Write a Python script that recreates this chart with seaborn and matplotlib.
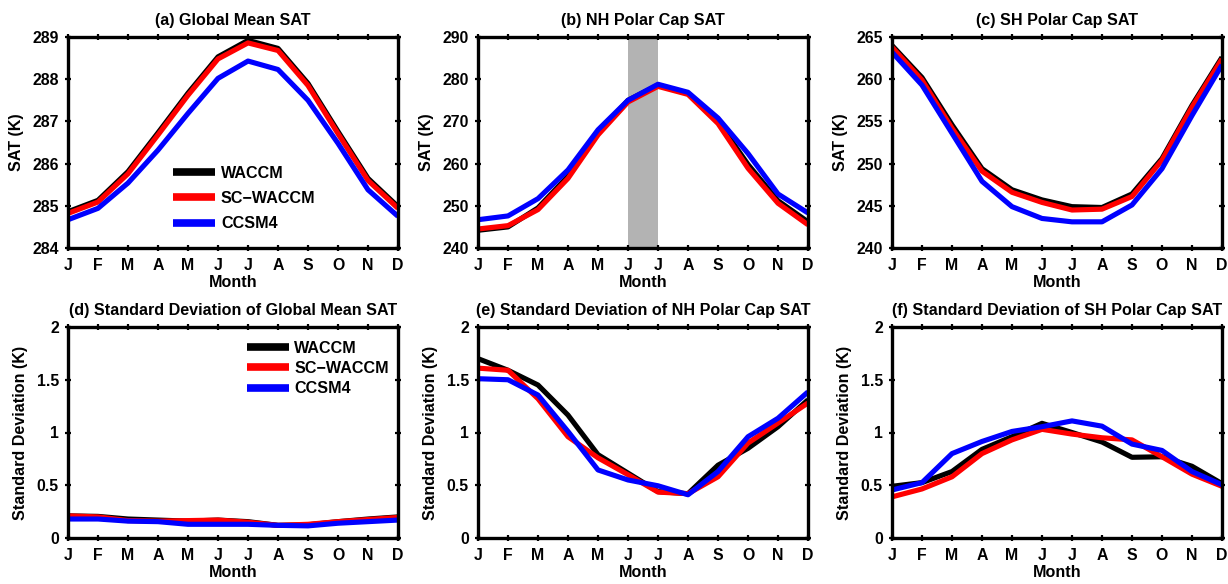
import matplotlib
matplotlib.use("Agg")
import matplotlib.pyplot as plt
import numpy as np
import pandas as pd
import seaborn as sns

# ---- data -------------------------------------------------------------
month_labels = ["J", "F", "M", "A", "M", "J", "J", "A", "S", "O", "N", "D"]
models = ["WACCM", "SC\u2212WACCM", "CCSM4"]
model_colors = ["#000000", "#ff0000", "#0000ff"]

# (a) global mean SAT (K)
gm_waccm = [284.86, 285.13, 285.81, 286.73, 287.67, 288.53, 288.92, 288.73, 287.90, 286.76, 285.65, 284.98]
gm_scwaccm = [284.82, 285.09, 285.76, 286.68, 287.62, 288.48, 288.86, 288.68, 287.85, 286.71, 285.60, 284.94]
gm_ccsm4 = [284.67, 284.94, 285.54, 286.32, 287.19, 288.02, 288.43, 288.23, 287.50, 286.48, 285.38, 284.75]

# (b) NH polar cap SAT (K)
nh_waccm = [244.2, 245.0, 249.5, 257.0, 267.2, 275.0, 278.6, 276.6, 270.0, 259.8, 251.2, 246.2]
nh_scwaccm = [244.5, 245.3, 249.1, 256.5, 266.8, 274.6, 278.3, 276.4, 269.5, 258.9, 250.6, 245.5]
nh_ccsm4 = [246.7, 247.6, 251.7, 258.5, 268.0, 275.0, 278.8, 276.9, 270.8, 262.4, 252.8, 248.3]

# (c) SH polar cap SAT (K)
sh_waccm = [264.0, 260.2, 254.6, 249.4, 246.9, 245.7, 244.9, 244.8, 246.4, 250.6, 256.9, 262.6]
sh_scwaccm = [263.8, 259.9, 254.2, 249.1, 246.6, 245.4, 244.5, 244.6, 246.1, 250.4, 256.7, 262.4]
sh_ccsm4 = [263.2, 259.3, 253.6, 247.9, 244.9, 243.5, 243.1, 243.1, 245.1, 249.4, 255.7, 261.7]

# (d) standard deviation of global mean SAT (K)
gm_sd_waccm = [0.21, 0.205, 0.18, 0.17, 0.16, 0.17, 0.155, 0.12, 0.125, 0.155, 0.18, 0.20]
gm_sd_scwaccm = [0.21, 0.20, 0.165, 0.16, 0.165, 0.17, 0.15, 0.12, 0.13, 0.155, 0.175, 0.195]
gm_sd_ccsm4 = [0.18, 0.18, 0.16, 0.155, 0.13, 0.13, 0.13, 0.12, 0.115, 0.14, 0.155, 0.17]

# (e) standard deviation of NH polar cap SAT (K)
nh_sd_waccm = [1.70, 1.59, 1.45, 1.165, 0.79, 0.615, 0.44, 0.42, 0.69, 0.85, 1.055, 1.31]
nh_sd_scwaccm = [1.61, 1.59, 1.32, 0.96, 0.76, 0.60, 0.435, 0.42, 0.58, 0.90, 1.09, 1.28]
nh_sd_ccsm4 = [1.51, 1.50, 1.355, 1.01, 0.645, 0.55, 0.495, 0.41, 0.63, 0.96, 1.135, 1.385]

# (f) standard deviation of SH polar cap SAT (K)
sh_sd_waccm = [0.49, 0.525, 0.63, 0.84, 0.96, 1.087, 1.00, 0.91, 0.765, 0.77, 0.68, 0.515]
sh_sd_scwaccm = [0.39, 0.465, 0.58, 0.80, 0.93, 1.03, 0.985, 0.95, 0.93, 0.77, 0.605, 0.49]
sh_sd_ccsm4 = [0.455, 0.525, 0.80, 0.915, 1.01, 1.055, 1.11, 1.06, 0.89, 0.83, 0.63, 0.505]

sat_ticks_a = [284, 285, 286, 287, 288, 289]
sat_ticks_b = [240, 250, 260, 270, 280, 290]
sat_ticks_c = [240, 245, 250, 255, 260, 265]
sd_ticks = [0, 0.5, 1, 1.5, 2]
sd_tick_labels = ["0", "0.5", "1", "1.5", "2"]

# ---- style ------------------------------------------------------------
sns.set_style("ticks")
plt.rcParams["font.family"] = ["Liberation Sans", "DejaVu Sans"]
plt.rcParams["font.weight"] = "bold"
plt.rcParams["axes.labelweight"] = "bold"
plt.rcParams["axes.titleweight"] = "bold"
plt.rcParams["text.color"] = "black"
plt.rcParams["axes.labelcolor"] = "black"
plt.rcParams["axes.titlecolor"] = "black"
plt.rcParams["xtick.color"] = "black"
plt.rcParams["ytick.color"] = "black"
plt.rcParams["xtick.labelcolor"] = "black"
plt.rcParams["ytick.labelcolor"] = "black"
plt.rcParams["lines.solid_capstyle"] = "butt"
plt.rcParams["lines.solid_joinstyle"] = "round"

W, H = 1228, 584
fig = plt.figure(figsize=(W / 100, H / 100), dpi=100)


def axes_px(x0, y0, x1, y1):
    return fig.add_axes([x0 / W, 1 - y1 / H, (x1 - x0) / W, (y1 - y0) / H])


def to_frame(series):
    rows = []
    for name, vals in zip(models, series):
        for i, v in enumerate(vals):
            rows.append({"month": i, "value": v, "model": name})
    return pd.DataFrame(rows)


def draw_panel(ax, series, title, ylabel, ylim, yticks, yticklabels=None, span=None):
    if span is not None:
        ax.axvspan(span[0], span[1], color="#b3b3b3", lw=0, zorder=0)
    sns.lineplot(data=to_frame(series), x="month", y="value", hue="model",
                 hue_order=models, palette=model_colors, linewidth=3.7,
                 sort=False, ax=ax, legend=True)
    ax.set_xlim(0, 11)
    ax.set_ylim(*ylim)
    ax.set_xticks(range(12))
    ax.set_xticklabels(month_labels)
    ax.set_yticks(yticks)
    if yticklabels is not None:
        ax.set_yticklabels(yticklabels)
    ax.set_title(title, fontsize=11.6, fontweight="bold", pad=9, color="black")
    ax.set_xlabel("Month", fontsize=11.6, fontweight="bold", labelpad=1, color="black")
    ax.set_ylabel(ylabel, fontsize=11.6, fontweight="bold", labelpad=6, color="black")
    ax.tick_params(axis="both", which="major", direction="inout", length=5,
                   width=1.6, labelsize=11.4, pad=4, top=True, right=True,
                   labeltop=False, labelright=False, color="black",
                   labelcolor="black")
    ax.tick_params(axis="x", pad=5)
    for lab in ax.get_xticklabels() + ax.get_yticklabels():
        lab.set_fontweight("bold")
    for sp in ax.spines.values():
        sp.set_visible(True)
        sp.set_linewidth(2.4)
        sp.set_color("black")
        sp.set_zorder(5)
    ax.set_facecolor("white")
    leg = ax.get_legend()
    if leg is not None:
        leg.remove()


def add_legend(ax, anchor, spacing):
    handles, labels = ax.get_legend_handles_labels()
    leg = ax.legend(handles, labels, loc="upper left", bbox_to_anchor=anchor,
                    frameon=False, handlelength=2.6, handletextpad=0.35,
                    labelspacing=spacing, borderaxespad=0,
                    prop={"size": 11.6, "weight": "bold"})
    for line in leg.get_lines():
        line.set_linewidth(5.5)
    for txt in leg.get_texts():
        txt.set_color("black")


top = (37, 248)
bot = (327, 538)
cols = [(68, 398), (478, 808), (892, 1222)]

ax_a = axes_px(cols[0][0], top[0], cols[0][1], top[1])
draw_panel(ax_a, [gm_waccm, gm_scwaccm, gm_ccsm4], "(a) Global Mean SAT",
           "SAT (K)", (284, 289), sat_ticks_a)
add_legend(ax_a, (0.30, 0.42), 0.64)

ax_b = axes_px(cols[1][0], top[0], cols[1][1], top[1])
draw_panel(ax_b, [nh_waccm, nh_scwaccm, nh_ccsm4], "(b) NH Polar Cap SAT",
           "SAT (K)", (240, 290), sat_ticks_b, span=(5, 6))

ax_c = axes_px(cols[2][0], top[0], cols[2][1], top[1])
draw_panel(ax_c, [sh_waccm, sh_scwaccm, sh_ccsm4], "(c) SH Polar Cap SAT",
           "SAT (K)", (240, 265), sat_ticks_c)

ax_d = axes_px(cols[0][0], bot[0], cols[0][1], bot[1])
draw_panel(ax_d, [gm_sd_waccm, gm_sd_scwaccm, gm_sd_ccsm4],
           "(d) Standard Deviation of Global Mean SAT", "Standard Deviation (K)",
           (0, 2), sd_ticks, sd_tick_labels)
add_legend(ax_d, (0.522, 0.965), 0.32)

ax_e = axes_px(cols[1][0], bot[0], cols[1][1], bot[1])
draw_panel(ax_e, [nh_sd_waccm, nh_sd_scwaccm, nh_sd_ccsm4],
           "(e) Standard Deviation of NH Polar Cap SAT", "Standard Deviation (K)",
           (0, 2), sd_ticks, sd_tick_labels)

ax_f = axes_px(cols[2][0], bot[0], cols[2][1], bot[1])
draw_panel(ax_f, [sh_sd_waccm, sh_sd_scwaccm, sh_sd_ccsm4],
           "(f) Standard Deviation of SH Polar Cap SAT", "Standard Deviation (K)",
           (0, 2), sd_ticks, sd_tick_labels)

fig.savefig("out.png", dpi=100, facecolor="white")
